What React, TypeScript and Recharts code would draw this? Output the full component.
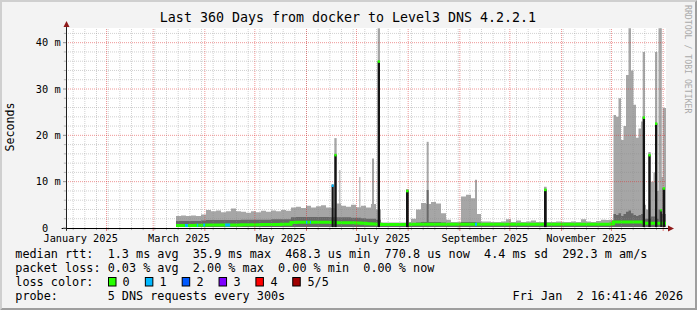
import React from 'react';
import { ComposedChart, Area, Line, XAxis, YAxis, CartesianGrid, ReferenceLine, ReferenceArea, ReferenceDot } from 'recharts';

const MONO = '"DejaVu Sans Mono", "Liberation Mono", monospace';
const YMAX = 43.17;
const MIN_PING = 0.2;

// ---- time helpers (day 0 = start of the 360 day window) ----
const DAY = 86400000;
const T0 = Date.UTC(2025, 0, 7, 16, 41, 46);
const dayOf = (y: number, m: number, d: number) => (Date.UTC(y, m, d) - T0) / DAY;

// ---- axis ticks / labels ----
const xTickLabels = ['January 2025', 'March 2025', 'May 2025', 'July 2025', 'September 2025', 'November 2025'];
const labelMonths = [0, 2, 4, 6, 8, 10];
const labelDays = labelMonths.map((m) => (dayOf(2025, m, 1) + dayOf(2025, m + 1, 1)) / 2);
const monthStarts = [1, 2, 3, 4, 5, 6, 7, 8, 9, 10, 11, 12].map((m) => dayOf(2025, m, 1));
const firstSunday = dayOf(2025, 0, 12);
const weekDays: number[] = [];
for (let d = firstSunday; d < 360; d += 7) weekDays.push(d);
const yTicks = [0, 10, 20, 30, 40];
const yTickLabels = [' 0', '10 m', '20 m', '30 m', '40 m'];
const yMinor = [2, 4, 6, 8, 12, 14, 16, 18, 22, 24, 26, 28, 32, 34, 36, 38, 42];

// ---- smoke / median columns (ms) ----
const colDays = [
  66, 69, 72, 75, 78, 81, 84, 87, 90, 93, 96, 99, 102, 105, 108, 111, 114, 117, 120, 123, 126, 129, 132,
  135, 138, 141, 144, 147, 150, 153, 156, 159, 162, 165, 168, 171, 174, 177, 180, 183, 186, 189, 192, 195,
  198, 201, 204, 207, 210, 213, 216, 219, 222, 225, 228, 231, 234, 237, 240, 243, 246, 249, 252, 255, 258,
  261, 264, 267, 270, 273, 276, 279, 282, 285, 288, 291, 294, 297, 300, 303, 306, 309, 312, 315, 318, 321, 324,
  327, 328.5, 330, 331.5, 333, 334.5, 336, 337.5, 339, 340.5, 342, 343.5, 345, 346.5, 348, 349.5, 351, 352.5,
  354, 355.5, 357, 358.5, 360,
];
const smokeHi = [
  2.6, 2.7, 2.6, 2.7, 2.6, 2.9, 3.9, 3.6, 3.8, 3.4, 3.6, 4.2, 3.6, 3.5, 3.3, 3.6, 3.4, 3.7, 3.5, 3.8, 3.6, 3.9, 3.7,
  4.4, 4.6, 4.3, 4.8, 4.4, 4.7, 4.9, 4.4, 4.3, 5.3, 4.8, 4.6, 5.0, 4.5, 4.8, 4.4, 5.2, 4.0, 1.2, 1.2, 1.2,
  1.2, 1.2, 1.3, 2.0, 4.0, 5.4, 5.2, 5.6, 5.3, 3.2, 1.8, 1.3, 1.3, 6.8, 7.2, 6.4, 3.0, 1.4, 1.4, 1.3, 1.3,
  1.4, 1.9, 1.3, 1.6, 1.3, 1.4, 1.6, 1.3, 1.3, 1.3, 1.3, 1.4, 1.3, 1.3, 1.4, 1.3, 1.9, 1.4, 1.3, 1.5, 1.8, 1.7,
  1.7, 24.4, 24.0, 28.0, 19.0, 22.0, 33.0, 43.1, 34.0, 26.6, 19.5, 21.5, 23.0, 5.0, 4.0, 6.0, 10.0, 12.0,
  8.0, 43.1, 11.0, 25.9, 25.9,
];
const smokeDark = [
  1.5, 1.5, 1.5, 1.5, 1.5, 1.6, 1.7, 1.7, 1.7, 1.7, 1.7, 1.7, 1.7, 1.8, 1.8, 1.8, 1.8, 1.8, 1.8, 1.9, 1.9, 1.9, 1.9,
  2.3, 2.4, 2.4, 2.4, 2.4, 2.4, 2.4, 2.4, 2.3, 2.3, 2.3, 2.3, 2.2, 2.2, 2.1, 2.0, 2.0, 1.8, 1.0, 1.0, 1.0,
  1.0, 1.0, 1.0, 1.1, 1.2, 1.3, 1.3, 1.3, 1.3, 1.2, 1.1, 1.0, 1.0, 1.3, 1.3, 1.3, 1.2, 1.0, 1.0, 1.0, 1.0,
  1.0, 1.0, 1.0, 1.0, 1.0, 1.0, 1.0, 1.0, 1.0, 1.0, 1.0, 1.0, 1.0, 1.0, 1.0, 1.0, 1.0, 1.0, 1.0, 1.0, 1.0, 1.0,
  1.1, 3.0, 2.8, 3.2, 2.6, 3.0, 3.5, 3.8, 3.2, 2.8, 2.6, 2.8, 3.0, 2.0, 2.0, 2.0, 2.5, 2.5,
  2.0, 4.0, 3.0, 3.0, 3.0,
];
const medianRtt = [
  0.55, 0.55, 0.55, 0.55, 0.6, 0.6, 0.65, 0.65, 0.65, 0.65, 0.65, 0.65, 0.65, 0.7, 0.7, 0.7, 0.7, 0.75, 0.75, 0.75, 0.75, 0.8, 0.8,
  1.2, 1.25, 1.25, 1.25, 1.25, 1.25, 1.25, 1.25, 1.2, 1.15, 1.15, 1.15, 1.15, 1.1, 1.0, 0.9, 0.85, 0.8, 0.75, 0.75, 0.75,
  0.75, 0.75, 0.75, 0.8, 0.8, 0.8, 0.8, 0.8, 0.8, 0.8, 0.8, 0.8, 0.8, 0.8, 0.8, 0.8, 0.8, 0.8, 0.8, 0.8, 0.8,
  0.8, 0.8, 0.8, 0.8, 0.8, 0.8, 0.8, 0.8, 0.8, 0.8, 0.8, 0.8, 0.8, 0.8, 0.8, 0.8, 0.8, 0.8, 0.8, 0.8, 0.8, 0.8,
  0.9, 1.3, 1.3, 1.3, 1.3, 1.3, 1.3, 1.3, 1.3, 1.3, 1.3, 1.3, 1.3, 1.0, 1.0, 1.0, 1.0, 1.0,
  1.0, 1.0, 1.0, 1.0, 1.0,
];

// ---- narrow spikes ----
const spikeDay = [159.4, 161.0, 164.0, 176.0, 183.6, 187.0, 204.0, 216.4, 245.4, 286.8, 346.0, 349.4, 353.4, 356.6, 358.0];
const spikeLen = [1.2, 1.4, 0.6, 0.6, 1.2, 1.4, 1.6, 1.2, 1.2, 1.6, 1.4, 1.4, 1.4, 0.9, 1.4];
const spikeTop = [9.5, 19.4, 12.5, 11.0, 15.0, 43.1, 8.4, 18.6, 10.4, 8.9, 38.0, 16.4, 38.0, 43.1, 25.9];
const spikeCore = [9.2, 15.8, 0, 0, 0, 36.0, 8.05, 8.2, 0, 8.3, 23.9, 15.8, 22.6, 3.9, 8.6];
const spikeLoss = [1, 0, -1, -1, -1, 0, 0, -1, -1, 0, 0, 0, 0, 0, 0];

// ---- median segments with packet loss ----
const lossDay = [71.4, 78.5, 82.3, 95.5, 144.0, 146.4, 245.4];
const lossLen = [1.8, 0.8, 1.2, 3.0, 0.8, 0.6, 1.2];
const lossMed = [0.55, 0.6, 0.65, 0.65, 1.25, 1.25, 0.8];
const lossCount = [1, 1, 1, 1, 1, 1, 1];

// ---- legend ----
const lossLabels = ['0', '1', '2', '3', '4', '5/5'];
const lossColors = ['#26ff00', '#00b8ff', '#0059ff', '#7e00ff', '#ff0000', '#a00000'];
const legendLine1 = 'median rtt:  1.3 ms avg  35.9 ms max  468.3 us min  770.8 us now  4.4 ms sd  292.3 m am/s';
const legendLine2 = 'packet loss: 0.03 % avg  2.00 % max  0.00 % min  0.00 % now';
const legendLine3 = 'loss color:';
const legendLine4 = 'probe:       5 DNS requests every 300s';
const stampText = 'Fri Jan  2 16:41:46 2026';
const titleText = 'Last 360 Days from docker to Level3 DNS 4.2.2.1';

const rows = colDays.map((d, i) => ({
  day: d,
  band: [MIN_PING, smokeHi[i]],
  dark: [MIN_PING, smokeDark[i]],
  med: medianRtt[i],
}));

const LIGHT = '#a6a6a6';
const DARK = '#686868';
const CORE = '#141414';
const MINOR = '#8c8c8c';
const MAJOR = '#e03030';

const crisp = (stroke: string) => (p: any) => {
  let { x1, y1, x2, y2 } = p;
  if (Math.abs(x1 - x2) < 0.01) { x1 = x2 = Math.floor(x1) + 0.5; }
  if (Math.abs(y1 - y2) < 0.01) { y1 = y2 = Math.floor(y1) + 0.5; }
  return <line x1={x1} y1={y1} x2={x2} y2={y2} stroke={stroke} strokeWidth={1} />;
};

const XTick = (props: any) => {
  const { x, y, payload } = props;
  const i = labelDays.indexOf(payload.value);
  return (
    <text x={x} y={y + 13.5} textAnchor="middle" fontFamily={MONO} fontSize={10.3} fill="#000">
      {xTickLabels[i]}
    </text>
  );
};

const YTick = (props: any) => {
  const { x, y, payload } = props;
  const i = yTicks.indexOf(payload.value);
  return (
    <text x={x - 27.2} y={y + 3.7} fontFamily={MONO} fontSize={10.3} fill="#000" xmlSpace="preserve" style={{ whiteSpace: 'pre' }}>
      {yTickLabels[i]}
    </text>
  );
};

const ARROW = '#8f1a1a';
const arrowRight = (p: any) => (
  <polygon points={`${p.cx + 2},${p.cy - 2.5} ${p.cx + 8},${p.cy + 0.5} ${p.cx + 2},${p.cy + 3.5}`} fill={ARROW} />
);
const arrowUp = (p: any) => (
  <polygon points={`${p.cx - 2.5},${p.cy - 1} ${p.cx + 0.5},${p.cy - 7} ${p.cx + 3.5},${p.cy - 1}`} fill={ARROW} />
);

export default function App() {
  const txt = { fontFamily: MONO, fill: '#000', whiteSpace: 'pre' as const };
  return (
    <div style={{ position: 'absolute', left: 0, top: 0, width: 697, height: 310, background: '#f3f3f3' }}>
      <ComposedChart width={697} height={310} data={rows} margin={{ top: 28, right: 31, bottom: 0, left: 0 }}>
        <XAxis dataKey="day" type="number" domain={[0, 360]} ticks={labelDays} interval={0} tick={<XTick />}
          tickLine={false} axisLine={false} tickSize={0} tickMargin={0} height={82} allowDataOverflow />
        <YAxis type="number" domain={[0, YMAX]} ticks={yTicks} interval={0} tick={<YTick />}
          tickLine={{ stroke: '#909090' }} axisLine={false} tickSize={3} tickMargin={0} width={66} allowDataOverflow />

        <CartesianGrid horizontal={false} vertical={false} fill="#ffffff" fillOpacity={1} />

        <Area dataKey="band" type="stepAfter" fill={LIGHT} fillOpacity={1} stroke="none" isAnimationActive={false} dot={false} activeDot={false} zIndex={100} />
        {spikeDay.map((d, i) => (
          <ReferenceArea key={'sg' + i} x1={d} x2={d + spikeLen[i]} y1={MIN_PING} y2={spikeTop[i]} fill={LIGHT} fillOpacity={1} stroke="none" zIndex={110} />
        ))}
        <Area dataKey="dark" type="stepAfter" fill={DARK} fillOpacity={1} stroke="none" isAnimationActive={false} dot={false} activeDot={false} zIndex={120} />
        {spikeDay.map((d, i) => (spikeCore[i] > 0 && spikeLoss[i] < 0 ? (
          <ReferenceArea key={'sd' + i} x1={d} x2={d + spikeLen[i]} y1={MIN_PING} y2={spikeCore[i]} fill={DARK} fillOpacity={1} stroke="none" zIndex={130} />
        ) : null))}

        <Line dataKey="med" type="stepAfter" stroke={lossColors[0]} strokeWidth={3} isAnimationActive={false} dot={false} activeDot={false} zIndex={400} />

        {yMinor.map((v) => (
          <ReferenceLine key={'ym' + v} y={v} stroke={MINOR} strokeOpacity={0.4} strokeDasharray="1 1" strokeWidth={1} />
        ))}
        {weekDays.map((d) => (
          <ReferenceLine key={'xw' + d} x={d} stroke={MINOR} strokeOpacity={0.4} strokeDasharray="1 1" strokeWidth={1} />
        ))}
        {yTicks.slice(1).map((v) => (
          <ReferenceLine key={'yM' + v} y={v} stroke={MAJOR} strokeOpacity={0.5} strokeDasharray="1 1" strokeWidth={1} />
        ))}
        {monthStarts.map((d) => (
          <ReferenceLine key={'xM' + d} x={d} stroke={MAJOR} strokeOpacity={0.5} strokeDasharray="1 1" strokeWidth={1} />
        ))}
        {weekDays.map((d) => (
          <ReferenceLine key={'tw' + d} segment={[{ x: d, y: 0 }, { x: d, y: -0.45 }]} ifOverflow="visible" stroke={MINOR} strokeOpacity={0.6} strokeWidth={1} />
        ))}
        {monthStarts.map((d) => (
          <ReferenceLine key={'tM' + d} segment={[{ x: d, y: 0 }, { x: d, y: -0.65 }]} ifOverflow="visible" stroke={MAJOR} strokeOpacity={0.6} strokeWidth={1} />
        ))}
        {yMinor.map((v) => (
          <ReferenceLine key={'tym' + v} segment={[{ x: -1.3, y: v }, { x: 0, y: v }]} ifOverflow="visible" stroke={MINOR} strokeOpacity={0.6} strokeWidth={1} />
        ))}

        {spikeDay.map((d, i) => (spikeCore[i] > 0 && spikeLoss[i] >= 0 ? (
          <ReferenceArea key={'sc' + i} x1={d} x2={d + spikeLen[i]} y1={MIN_PING} y2={spikeCore[i]} fill={CORE} fillOpacity={1} stroke="none" zIndex={410} />
        ) : null))}
        {spikeDay.map((d, i) => (spikeLoss[i] >= 0 ? (
          <ReferenceArea key={'sk' + i} x1={d} x2={d + spikeLen[i]} y1={spikeCore[i] - 0.35} y2={spikeCore[i] + 0.2} fill={lossColors[spikeLoss[i]]} fillOpacity={1} stroke="none" zIndex={420} />
        ) : null))}
        {lossDay.map((d, i) => (
          <ReferenceArea key={'ls' + i} x1={d} x2={d + lossLen[i]} y1={lossMed[i] - 0.32} y2={lossMed[i] + 0.32} fill={lossColors[lossCount[i]]} fillOpacity={1} stroke="none" zIndex={420} />
        ))}

        <ReferenceLine segment={[{ x: -2.6, y: 0 }, { x: 361.3, y: 0 }]} ifOverflow="visible" shape={crisp('#000000')} zIndex={470} />
        <ReferenceLine segment={[{ x: 0, y: -0.6 }, { x: 0, y: YMAX + 0.2 }]} ifOverflow="visible" shape={crisp('#202020')} zIndex={470} />
        <ReferenceDot x={360} y={0} ifOverflow="visible" shape={arrowRight} zIndex={480} />
        <ReferenceDot x={0} y={YMAX} ifOverflow="visible" shape={arrowUp} zIndex={480} />
      </ComposedChart>

      <svg width={697} height={310} style={{ position: 'absolute', left: 0, top: 0, pointerEvents: 'none' }}>
        <polygon points="0,0 697,0 695,2 2,2 2,308 0,310" fill="#cfcfcf" />
        <polygon points="697,0 697,310 0,310 2,308 695,308 695,2" fill="#9e9e9e" />
        <text x={348} y={22.3} textAnchor="middle" fontSize={13.3} style={txt}>{titleText}</text>
        <text x={14} y={127} textAnchor="middle" fontSize={11.6} transform="rotate(-90 14 127)" style={txt}>Seconds</text>
        <text x={685} y={5} fontSize={8.2} transform="rotate(90 685 5)" style={{ ...txt, fill: '#aaaaaa' }}>RRDTOOL / TOBI OETIKER</text>
        <text x={15.3} y={258.1} fontSize={11.8} xmlSpace="preserve" style={txt}>{legendLine1}</text>
        <text x={15.3} y={272.2} fontSize={11.8} xmlSpace="preserve" style={txt}>{legendLine2}</text>
        <text x={15.3} y={286.3} fontSize={11.8} xmlSpace="preserve" style={txt}>{legendLine3}</text>
        {lossLabels.map((l, i) => (
          <g key={l}>
            <rect x={108.5 + i * 36.85} y={277.5} width={7.5} height={8.5} fill={lossColors[i]} stroke="#000" strokeWidth={1} />
            <text x={122.6 + i * 36.97} y={286.3} fontSize={11.8} style={txt}>{l}</text>
          </g>
        ))}
        <text x={15.3} y={300.4} fontSize={11.8} xmlSpace="preserve" style={txt}>{legendLine4}</text>
        <text x={512.6} y={300.4} fontSize={11.8} xmlSpace="preserve" style={txt}>{stampText}</text>
      </svg>
    </div>
  );
}
